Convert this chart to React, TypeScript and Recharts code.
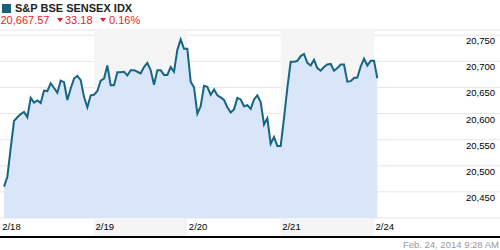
import React from 'react';
import {
  AreaChart,
  Area,
  XAxis,
  YAxis,
  CartesianGrid,
  ReferenceArea,
} from 'recharts';

// intraday closes, 2/18 -> 2/24 open (28 points per session)
const values = [
  20460, 20479, 20534, 20586, 20593, 20599, 20603, 20593, 20630, 20621,
  20625, 20620, 20644, 20643, 20658, 20649, 20640, 20663, 20660, 20626,
  20648, 20667, 20672, 20664, 20632, 20612, 20635, 20636, 20643, 20663,
  20667, 20692, 20654, 20654, 20679, 20679, 20680, 20673, 20683, 20683,
  20680, 20677, 20689, 20697, 20683, 20655, 20683, 20683, 20674, 20674,
  20689, 20680, 20722, 20742, 20724, 20724, 20661, 20650, 20600, 20614,
  20653, 20651, 20636, 20646, 20635, 20631, 20626, 20612, 20602, 20608,
  20630, 20627, 20614, 20616, 20609, 20627, 20635, 20622, 20579, 20591,
  20542, 20555, 20538, 20538, 20591, 20649, 20699, 20699, 20701, 20710,
  20714, 20697, 20692, 20703, 20687, 20682, 20689, 20694, 20695, 20682,
  20687, 20694, 20694, 20661, 20662, 20668, 20669, 20690, 20705, 20692,
  20701, 20701, 20667.57,
];
const POINTS_PER_DAY = 28;

const dayLabels = ['2/18', '2/19', '2/20', '2/21', '2/24'];
const dayTicks = [0, 1, 2, 3, 4];
const shadedDays = [1, 3];
const yTicks = [20400, 20450, 20500, 20550, 20600, 20650, 20700, 20750];

const title = 'S&P BSE SENSEX IDX';
const lastPrice = '20,667.57';
const netChange = '33.18';
const pctChange = '0.16%';
const timestamp = 'Feb. 24, 2014 9:28 AM';

const data = values.map((v, i) => ({ t: (i + 1) / POINTS_PER_DAY, v }));

const FONT = 'Arial, "Liberation Sans", sans-serif';
const RED = '#ee1c25';

const YTick = ({ x, y, payload }: any) => {
  if (payload.value === 20400) return <g />;
  return (
    <text x={x} y={y} dy={9} textAnchor="end" fontSize={9.5} fontFamily={FONT} fill="#000">
      {payload.value.toLocaleString('en-US')}
    </text>
  );
};

const XTick = ({ x, y, payload }: any) => (
  <text x={x + 1.5} y={y} textAnchor="start" fontSize={9.5} fontFamily={FONT} fill="#000">
    {dayLabels[payload.value]}
  </text>
);

const Tri = ({ left }: { left: number }) => (
  <div
    style={{
      position: 'absolute',
      left,
      top: 18,
      width: 0,
      height: 0,
      borderLeft: '3px solid transparent',
      borderRight: '3px solid transparent',
      borderTop: `4px solid ${RED}`,
    }}
  />
);

export default function App() {
  const txt = { position: 'absolute' as const, fontFamily: FONT, lineHeight: '11px', whiteSpace: 'nowrap' as const };
  return (
    <div style={{ position: 'absolute', top: 0, left: 0, width: 500, height: 250, background: '#fff', overflow: 'hidden' }}>
      <div style={{ position: 'absolute', left: 2, top: 4, width: 9, height: 9, background: '#1b6079' }} />
      <div style={{ ...txt, left: 15, top: 2.5, fontSize: 11, fontWeight: 'bold', color: '#222' }}>{title}</div>
      <div style={{ ...txt, left: 0.5, top: 14.5, fontSize: 11, color: RED }}>{lastPrice}</div>
      <Tri left={57} />
      <div style={{ ...txt, left: 65, top: 14.5, fontSize: 11, color: RED }}>{netChange}</div>
      <Tri left={100} />
      <div style={{ ...txt, left: 109, top: 14.5, fontSize: 11, color: RED }}>{pctChange}</div>

      <div style={{ position: 'absolute', left: 0, top: 0 }}>
        <AreaChart width={500} height={250} data={data} margin={{ top: 30, right: 0, bottom: 13, left: 0 }}>
          {shadedDays.map((d) => (
            <ReferenceArea key={d} x1={d} x2={d + 1} fill="#f5f5f5" fillOpacity={1} stroke="none" ifOverflow="visible" />
          ))}
          <CartesianGrid vertical={false} stroke="#e6e6e6" strokeWidth={1} />
          <XAxis
            type="number"
            dataKey="t"
            domain={[-0.0075, 5.35]}
            allowDataOverflow
            ticks={dayTicks}
            interval={0}
            mirror
            tickLine={false}
            tickSize={0}
            tickMargin={7}
            axisLine={{ stroke: '#000', strokeWidth: 2 }}
            tick={<XTick />}
          />
          <YAxis
            orientation="right"
            mirror
            domain={[20363.6, 20760]}
            allowDataOverflow
            ticks={yTicks}
            interval={0}
            tickLine={false}
            axisLine={false}
            tickSize={0}
            tickMargin={5}
            tick={<YTick />}
          />
          <Area
            type="linear"
            dataKey="v"
            baseValue={20400}
            stroke="#156583"
            strokeWidth={2}
            fill="#d9e5f8"
            fillOpacity={1}
            dot={false}
            activeDot={false}
            isAnimationActive={false}
          />
        </AreaChart>
      </div>

      <div style={{ ...txt, right: 1, top: 239, fontSize: 9.5, color: '#999' }}>{timestamp}</div>
    </div>
  );
}
